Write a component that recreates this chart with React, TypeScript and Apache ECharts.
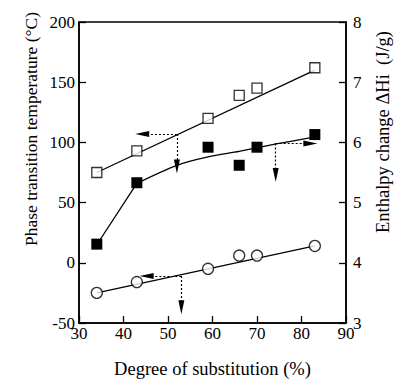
import React, { useEffect, useRef } from "react";
import * as echarts from "echarts";

// Degree of substitution (%) for each sample
const substitution = [34, 43, 59, 66, 70, 83];
// Open squares: phase transition temperature (°C), left axis
const transitionTemp = [75, 93, 120, 139, 145, 162];
// Open circles: phase transition temperature (°C), left axis
const lowTransitionTemp = [-25, -16, -5, 6, 6, 14];
// Filled squares: enthalpy change ΔHi (J/g), right axis
const enthalpy = [4.31, 5.33, 5.92, 5.62, 5.92, 6.13];

// Fitted lines
const tempFitX = [34, 83];
const tempFitY = [75, 160];
const lowTempFitX = [34, 83];
const lowTempFitY = [-25, 14];
const enthalpyFitX = [34, 43];
const enthalpyFitY = [4.3, 5.32];
const enthalpyCurveX = [43, 52, 59, 66, 70, 74, 83];
const enthalpyCurveY = [5.32, 5.62, 5.76, 5.85, 5.91, 5.97, 6.09];

// Dotted indicator arrows (x, left-axis value): start, horizontal tip, vertical tip
const arrowStarts = [[52, 107], [74.2, 99], [53, -11]];
const arrowHorizTipX = [44.2, 82, 45.2];
const arrowVertTipY = [80, 73, -37];

// Axis ticks
const xTicks = { min: 30, max: 90, interval: 10 };
const leftTicks = { min: -50, max: 200, interval: 50 };
const rightTicks = { min: 3, max: 8, interval: 1 };

const FONT = "'Liberation Serif', 'Times New Roman', serif";

export default function App() {
  const ref = useRef<HTMLDivElement>(null);
  useEffect(() => {
    if (!ref.current) return;
    const chart = echarts.init(ref.current, null, { renderer: "svg" });
    const zip = (xs: number[], ys: number[]) => xs.map((x, i) => [x, ys[i]]);

    const arrowLines: any[] = [];
    arrowStarts.forEach((s, i) => {
      arrowLines.push([{ coord: s }, { coord: [arrowHorizTipX[i], s[1]] }]);
      arrowLines.push([{ coord: s }, { coord: [s[0], arrowVertTipY[i]] }]);
    });

    const lineStyle = { color: "#000", width: 1.3 };

    chart.setOption({
      animation: false,
      backgroundColor: "#fff",
      grid: {
        left: 79,
        right: 50,
        top: 22,
        bottom: 59,
        show: true,
        borderColor: "#000",
        borderWidth: 1.5,
        backgroundColor: "transparent",
      },
      xAxis: {
        type: "value",
        ...xTicks,
        name: "Degree of substitution (%)",
        nameLocation: "middle",
        nameGap: 36,
        nameTextStyle: { fontFamily: FONT, fontSize: 18.5, color: "#000" },
        axisLine: { onZero: false, lineStyle: { color: "#000", width: 1.5 } },
        axisTick: { inside: true, length: 7, lineStyle: { color: "#000", width: 1.3 } },
        axisLabel: { fontFamily: FONT, fontSize: 17, color: "#000", margin: 2 },
        splitLine: { show: false },
      },
      yAxis: [
        {
          type: "value",
          ...leftTicks,
          axisLine: { show: true, onZero: false, lineStyle: { color: "#000", width: 1.5 } },
          axisTick: { show: true, inside: true, length: 7, lineStyle: { color: "#000", width: 1.3 } },
          axisLabel: { fontFamily: FONT, fontSize: 17, color: "#000", margin: 4 },
          splitLine: { show: false },
        },
        {
          type: "value",
          position: "right",
          ...rightTicks,
          axisLine: { show: true, onZero: false, lineStyle: { color: "#000", width: 1.5 } },
          axisTick: { show: true, inside: true, length: 7, lineStyle: { color: "#000", width: 1.3 } },
          axisLabel: { fontFamily: FONT, fontSize: 17, color: "#000", margin: 7 },
          splitLine: { show: false },
        },
      ],
      graphic: [
        {
          type: "text",
          x: 31,
          y: 129,
          rotation: Math.PI / 2,
          style: {
            text: "Phase transition temperature (°C)",
            fontFamily: FONT,
            fontSize: 17.5,
            fill: "#000",
            align: "center",
            verticalAlign: "middle",
          },
        },
        {
          type: "text",
          x: 383,
          y: 132,
          rotation: Math.PI / 2,
          style: {
            text: "Enthalpy change ΔHi  (J/g)",
            fontFamily: FONT,
            fontSize: 18.5,
            fill: "#000",
            align: "center",
            verticalAlign: "middle",
          },
        },
      ],
      series: [
        {
          type: "line",
          data: zip(tempFitX, tempFitY),
          showSymbol: false,
          lineStyle,
          z: 2,
          silent: true,
        },
        {
          type: "line",
          data: zip(lowTempFitX, lowTempFitY),
          showSymbol: false,
          lineStyle,
          z: 2,
          silent: true,
        },
        {
          type: "line",
          yAxisIndex: 1,
          data: zip(enthalpyFitX, enthalpyFitY),
          showSymbol: false,
          lineStyle,
          z: 2,
          silent: true,
        },
        {
          type: "line",
          yAxisIndex: 1,
          data: zip(enthalpyCurveX, enthalpyCurveY),
          showSymbol: false,
          smooth: 0.3,
          lineStyle,
          z: 2,
          silent: true,
        },
        {
          type: "scatter",
          data: zip(substitution, transitionTemp),
          symbol: "rect",
          symbolSize: 10,
          itemStyle: { color: "#fff", borderColor: "#000", borderWidth: 1.3 },
          z: 5,
        },
        {
          type: "scatter",
          data: zip(substitution, lowTransitionTemp),
          symbol: "circle",
          symbolSize: 11,
          itemStyle: { color: "#fff", borderColor: "#000", borderWidth: 1.3 },
          z: 5,
        },
        {
          type: "scatter",
          yAxisIndex: 1,
          data: zip(substitution, enthalpy),
          symbol: "rect",
          symbolSize: 11,
          itemStyle: { color: "#000", opacity: 1 },
          emphasis: { disabled: true },
          z: 5,
        },
        {
          type: "line",
          data: [],
          z: 4,
          markLine: {
            silent: true,
            symbol: ["none", "triangle"],
            symbolSize: [6, 14],
            label: { show: false },
            lineStyle: { color: "#000", width: 1.2, type: [2, 2] },
            data: arrowLines,
          },
        },
      ],
    });
    return () => chart.dispose();
  }, []);
  return (
    <div
      ref={ref}
      style={{ position: "fixed", left: 0, top: 0, width: 396, height: 383 }}
    />
  );
}
